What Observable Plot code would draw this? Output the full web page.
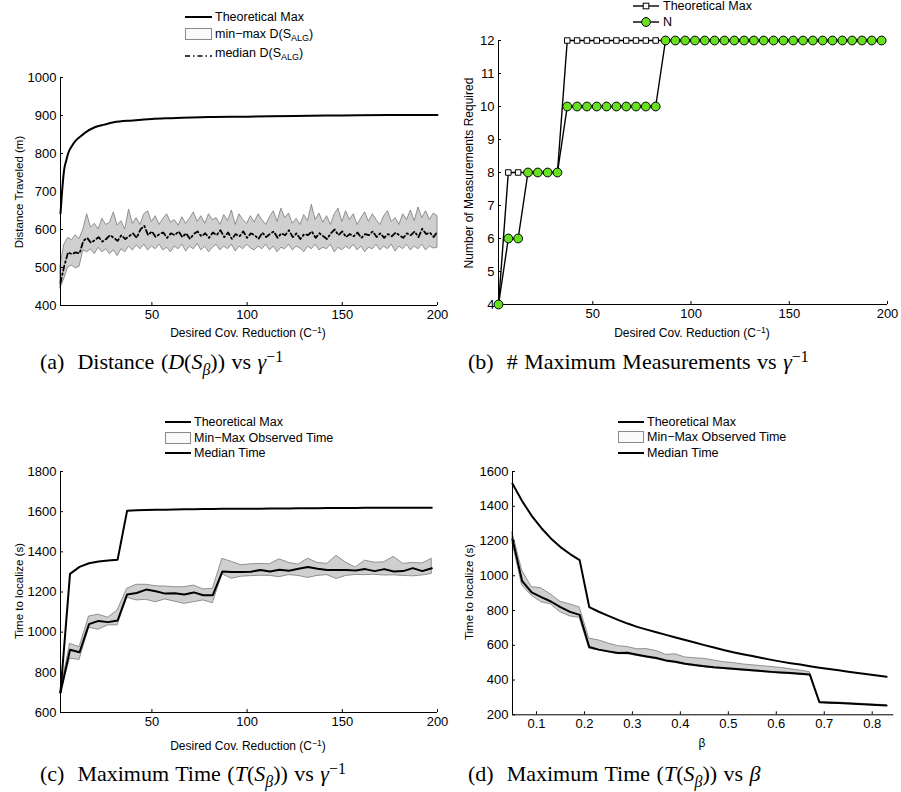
<!DOCTYPE html>
<html><head><meta charset="utf-8">
<script src="https://cdn.jsdelivr.net/npm/d3@7"></script>
<script src="https://cdn.jsdelivr.net/npm/@observablehq/plot@0.6"></script>
<style>
body{margin:0;background:#fff;}
#fig{position:relative;width:901px;height:792px;font-family:"Liberation Sans",Arial,sans-serif;color:#000;overflow:hidden;}
#fig svg.plot{position:absolute;}
.lrow{position:absolute;display:flex;align-items:center;height:16px;white-space:nowrap;font-size:12.5px;}
.lrow svg{display:block;}
.lab{position:absolute;white-space:nowrap;font-size:12px;transform:translate(-50%,-50%);}
.ylab{position:absolute;white-space:nowrap;font-size:11.5px;transform:translate(-50%,-50%) rotate(-90deg);}
.cap{position:absolute;white-space:nowrap;font-family:"Liberation Serif","DejaVu Serif",serif;font-size:22px;word-spacing:1px;transform:translateY(-50%);}
sub{font-size:0.72em;vertical-align:-0.35em;line-height:0;}
sup{font-size:0.72em;vertical-align:0.45em;line-height:0;}
</style></head><body><div id="fig"></div>
<script>
// ---------- Panel (a): distance vs desired covariance reduction ----------
const xA = d3.range(2, 201, 2);
const maxA = [505,560,578,572,585,575,600,640,605,615,600,628,612,618,645,610,622,600,652,615,
  630,612,640,648,620,635,612,628,640,618,625,610,632,615,628,645,620,635,615,640,
  625,630,612,638,622,650,612,640,625,615,635,618,640,625,612,632,648,620,655,630,
  642,615,628,612,638,622,665,625,642,618,635,612,640,655,620,648,625,640,612,630,
  645,620,640,625,612,635,648,620,630,612,640,625,650,622,658,630,648,625,642,635];
const minA = [445,470,500,505,498,502,545,540,548,535,552,540,548,535,545,530,548,540,555,545,
  558,548,560,545,555,548,560,545,552,540,555,548,560,542,555,548,562,545,555,540,
  552,560,545,555,548,560,542,555,548,560,550,545,555,548,560,545,555,540,552,548,
  560,545,555,550,540,555,548,560,545,552,548,560,540,552,545,555,548,560,545,555,
  540,552,548,560,545,555,548,560,542,555,548,560,545,555,548,560,545,555,550,552];
const medA = [460,505,540,535,540,537,570,578,565,572,580,568,575,585,578,570,585,575,582,590,
  578,600,610,585,595,580,588,592,578,590,585,595,580,590,575,588,595,582,590,578,
  592,585,598,580,592,575,588,582,595,578,590,585,575,592,580,588,595,578,590,585,
  598,580,590,575,588,585,595,578,590,582,575,590,600,585,595,580,588,582,592,578,
  588,585,595,580,590,578,588,582,592,585,578,590,585,595,580,602,588,592,580,595];
const thXA = [2,3,4,5,6,8,10,12,15,20,25,30,40,50,60,80,100,125,150,175,200];
const thA  = [642,711,760,781,800,820,834,843,855,869,876,882,887,891,893,896,897,899,900,901,901];

// ---------- Panel (b): number of measurements ----------
const xB = d3.range(2, 198, 5);
const thB = [4,8,8,8,8,8,8,12,12,12,12,12,12,12,12,12,12,12,12,12,
  12,12,12,12,12,12,12,12,12,12,12,12,12,12,12,12,12,12,12,12];
const nB  = [4,6,6,8,8,8,8,10,10,10,10,10,10,10,10,10,10,12,12,12,
  12,12,12,12,12,12,12,12,12,12,12,12,12,12,12,12,12,12,12,12];

// ---------- Panel (c): time vs desired covariance reduction ----------
const xC = d3.range(2, 198, 5);
const thC  = [700,1290,1325,1343,1352,1357,1361,1605,1607,1608,1609,1610,1611,1612,1612,1613,1613,1614,1614,1615,
  1615,1615,1616,1616,1616,1617,1617,1617,1618,1618,1618,1618,1619,1619,1619,1619,1620,1620,1620,1620];
const medC = [700,912,900,1040,1056,1050,1058,1188,1195,1212,1204,1192,1194,1188,1198,1184,1184,1302,1300,1299,
  1301,1310,1302,1311,1306,1316,1324,1316,1310,1310,1310,1307,1314,1304,1314,1302,1304,1319,1304,1318];
const maxC = [705,942,925,1078,1087,1072,1108,1216,1236,1236,1229,1227,1224,1224,1232,1213,1216,1365,1350,1333,
  1338,1340,1338,1363,1345,1336,1366,1345,1340,1380,1346,1322,1356,1346,1348,1375,1340,1345,1342,1365];
const minC = [695,868,862,1022,1012,1034,1034,1171,1158,1161,1149,1163,1152,1141,1149,1158,1144,1288,1266,1276,
  1279,1281,1280,1274,1284,1280,1270,1280,1284,1265,1280,1285,1284,1286,1282,1283,1280,1278,1282,1290];

// ---------- Panel (d): time vs beta ----------
const xD = d3.range(40).map(i => +(0.05 + 0.02 * i).toFixed(2));
const thD  = [1530,1430,1345,1275,1215,1165,1125,1090,820,793,769,746,725,706,690,675,660,645,630,616,
  601,587,573,560,549,538,527,516,506,497,489,480,471,463,456,448,441,434,426,419];
const medD = [1210,970,905,877,852,820,792,775,590,575,565,555,557,546,536,527,513,505,494,486,
  480,474,470,465,460,456,452,447,443,440,436,432,272,270,268,265,262,259,256,254];
const maxD = [1250,1030,935,928,892,850,835,818,638,628,610,595,590,577,578,567,545,548,530,525,
  522,512,503,498,490,485,480,475,470,462,455,445,275,272,270,267,264,261,258,256];
const minD = [1190,945,885,848,835,790,766,758,580,570,559,549,548,539,529,520,506,498,488,480,
  474,468,464,459,454,450,446,441,437,434,430,426,269,267,265,262,259,256,253,251];

// tick values
const ticksX200 = [50,100,150,200];
const ticksYA = [400,500,600,700,800,900,1000];
const ticksYB = [4,5,6,7,8,9,10,11,12];
const ticksYC = [600,800,1000,1200,1400,1600,1800];
const ticksXD = [0.1,0.2,0.3,0.4,0.5,0.6,0.7,0.8];
const ticksYD = [200,400,600,800,1000,1200,1400,1600];

const fig = document.getElementById("fig");
const BAND_FILL = "#cfcfcf", BAND_STROKE = "#7a7a7a";
const GREEN = "#66e01f";
const fmtInt = d3.format("d");

function axes(xd, yd, xt, yt, fs, xfmt) {
  return [
    Plot.ruleX([xd[0]], {stroke: "black", strokeWidth: 1}),
    Plot.ruleY([yd[0]], {stroke: "black", strokeWidth: 1}),
    Plot.axisX(xt, {tickSize: -3, tickPadding: 7, fontSize: fs, tickFormat: xfmt || fmtInt, label: null}),
    Plot.axisY(yt, {tickSize: -3, tickPadding: 7, fontSize: fs, tickFormat: fmtInt, label: null})
  ];
}
function place(svg, left, top) {
  svg.classList.add("plot");
  svg.style.left = left + "px";
  svg.style.top = top + "px";
  fig.appendChild(svg);
}
const baseStyle = {fontFamily: "Liberation Sans, Arial, sans-serif", background: "transparent", color: "black", overflow: "visible"};

// Panel a
const dA = xA.map((x, i) => ({x, lo: minA[i], hi: maxA[i], med: medA[i]}));
const tA = thXA.map((x, i) => ({x, y: thA[i]}));
place(Plot.plot({
  width: 450, height: 270, marginLeft: 60, marginRight: 13, marginTop: 17, marginBottom: 25,
  style: baseStyle,
  x: {domain: [2, 200]}, y: {domain: [400, 1000]},
  marks: [
    Plot.areaY(dA, {x: "x", y1: "lo", y2: "hi", fill: BAND_FILL, stroke: BAND_STROKE, strokeWidth: 0.8}),
    Plot.line(dA, {x: "x", y: "med", stroke: "black", strokeWidth: 1.8, strokeDasharray: "5,3,1.5,3"}),
    Plot.line(tA, {x: "x", y: "y", stroke: "black", strokeWidth: 2, curve: "monotone-x"}),
    ...axes([2, 200], [400, 1000], ticksX200, ticksYA, 13)
  ]
}), 0, 60);

// Panel b
const dB = xB.map((x, i) => ({x, th: thB[i], n: nB[i]}));
place(Plot.plot({
  width: 451, height: 300, marginLeft: 48, marginRight: 14, marginTop: 10, marginBottom: 26,
  style: baseStyle,
  x: {domain: [2, 200]}, y: {domain: [4, 12]},
  marks: [
    ...axes([2, 200], [4, 12], ticksX200, ticksYB, 13),
    Plot.line(dB, {x: "x", y: "th", stroke: "black", strokeWidth: 1.4}),
    Plot.dot(dB, {x: "x", y: "th", symbol: "square", r: 3.1, fill: "white", stroke: "black", strokeWidth: 1}),
    Plot.line(dB, {x: "x", y: "n", stroke: "black", strokeWidth: 1.4}),
    Plot.dot(dB, {x: "x", y: "n", r: 4.4, fill: GREEN, stroke: "black", strokeWidth: 1})
  ]
}), 450, 30);

// Panel c
const dC = xC.map((x, i) => ({x, lo: minC[i], hi: maxC[i], med: medC[i], th: thC[i]}));
place(Plot.plot({
  width: 450, height: 270, marginLeft: 60, marginRight: 13, marginTop: 11, marginBottom: 18,
  style: baseStyle,
  x: {domain: [2, 200]}, y: {domain: [600, 1800]},
  marks: [
    Plot.areaY(dC, {x: "x", y1: "lo", y2: "hi", fill: BAND_FILL, stroke: BAND_STROKE, strokeWidth: 0.8}),
    Plot.line(dC, {x: "x", y: "med", stroke: "black", strokeWidth: 2}),
    Plot.line(dC, {x: "x", y: "th", stroke: "black", strokeWidth: 2}),
    ...axes([2, 200], [600, 1800], ticksX200, ticksYC, 13)
  ]
}), 0, 460);

// Panel d
const dD = xD.map((x, i) => ({x, lo: minD[i], hi: maxD[i], med: medD[i], th: thD[i]}));
place(Plot.plot({
  width: 451, height: 270, marginLeft: 62, marginRight: 7.7, marginTop: 11, marginBottom: 15.7,
  style: baseStyle,
  x: {domain: [0.05, 0.845]}, y: {domain: [200, 1600]},
  marks: [
    Plot.areaY(dD, {x: "x", y1: "lo", y2: "hi", fill: BAND_FILL, stroke: BAND_STROKE, strokeWidth: 0.8}),
    Plot.line(dD, {x: "x", y: "med", stroke: "black", strokeWidth: 2}),
    Plot.line(dD, {x: "x", y: "th", stroke: "black", strokeWidth: 2}),
    ...axes([0.05, 0.845], [200, 1600], ticksXD, ticksYD, 13, d3.format(".1f"))
  ]
}), 450, 460);

// ---------- legends ----------
function swatch(type, w) {
  const h = 16, m = h / 2;
  let s = `<svg width="${w}" height="${h}">`;
  if (type === "line") s += `<line x1="0" x2="${w}" y1="${m}" y2="${m}" stroke="black" stroke-width="2"/>`;
  if (type === "box") s += `<rect x="0.5" y="2.5" width="${w - 1}" height="${h - 5}" fill="#fafafa" stroke="#8a8a8a" stroke-width="1"/>`;
  if (type === "dashdot") s += `<line x1="0" x2="${w}" y1="${m + 3}" y2="${m + 3}" stroke="black" stroke-width="1.6" stroke-dasharray="5,3,1.5,3"/>`;
  if (type === "sq") s += `<line x1="0" x2="${w}" y1="${m}" y2="${m}" stroke="black" stroke-width="1.4"/><rect x="${w / 2 - 2.8}" y="${m - 2.8}" width="5.6" height="5.6" fill="white" stroke="black"/>`;
  if (type === "circ") s += `<line x1="0" x2="${w}" y1="${m}" y2="${m}" stroke="black" stroke-width="1.4"/><circle cx="${w / 2}" cy="${m}" r="4.4" fill="${GREEN}" stroke="black"/>`;
  return s + `</svg>`;
}
function legendRow(x, y, w, type, html, gap) {
  const d = document.createElement("div");
  d.className = "lrow";
  d.style.left = x + "px";
  d.style.top = (y - 8) + "px";
  d.innerHTML = swatch(type, w) + `<span style="margin-left:${gap}px">${html}</span>`;
  fig.appendChild(d);
}
function text(cls, x, y, html, extra) {
  const d = document.createElement("div");
  d.className = cls;
  d.style.left = x + "px";
  d.style.top = y + "px";
  if (extra) Object.assign(d.style, extra);
  d.innerHTML = html;
  fig.appendChild(d);
}

const legA = ["Theoretical Max", "min\u2212max D(S<sub>ALG</sub>)", "median D(S<sub>ALG</sub>)"];
const legB = ["Theoretical Max", "N"];
const legCD = ["Theoretical Max", "Min\u2212Max Observed Time", "Median Time"];

legendRow(185, 17, 27, "line", legA[0], 3);
legendRow(185, 34, 27, "box", legA[1], 3);
legendRow(185, 53, 27, "dashdot", legA[2], 3);

legendRow(633, 6, 26, "sq", legB[0], 4);
legendRow(633, 22, 26, "circ", legB[1], 4);

legendRow(165, 422, 26, "line", legCD[0], 3);
legendRow(165, 438, 26, "box", legCD[1], 3);
legendRow(165, 453, 26, "line", legCD[2], 3);

legendRow(618, 422, 26, "line", legCD[0], 3);
legendRow(618, 437, 26, "box", legCD[1], 3);
legendRow(618, 453, 26, "line", legCD[2], 3);

// ---------- axis titles ----------
const xlab = "Desired Cov. Reduction (C<sup>\u22121</sup>)";
text("lab", 248, 333, xlab);
text("lab", 692, 333, xlab);
text("lab", 248, 746, xlab);
text("lab", 702, 743, "\u03b2");
text("ylab", 19, 192, "Distance Traveled (m)");
text("ylab", 469, 173, "Number of Measurements Required", {fontSize: "12px"});
text("ylab", 19, 591, "Time to localize (s)");
text("ylab", 469, 592, "Time to localize (s)");

// ---------- captions ----------
text("cap", 40, 362, "(a)&nbsp;&nbsp;Distance (<i>D</i>(<i>S</i><sub><i>\u03b2</i></sub>)) vs <i>\u03b3</i><sup>\u22121</sup>");
text("cap", 468, 362, "(b)&nbsp;&nbsp;# Maximum Measurements vs <i>\u03b3</i><sup>\u22121</sup>");
text("cap", 40, 774, "(c)&nbsp;&nbsp;Maximum Time (<i>T</i>(<i>S</i><sub><i>\u03b2</i></sub>)) vs <i>\u03b3</i><sup>\u22121</sup>");
text("cap", 468, 774, "(d)&nbsp;&nbsp;Maximum Time (<i>T</i>(<i>S</i><sub><i>\u03b2</i></sub>)) vs <i>\u03b2</i>");
</script></body></html>
